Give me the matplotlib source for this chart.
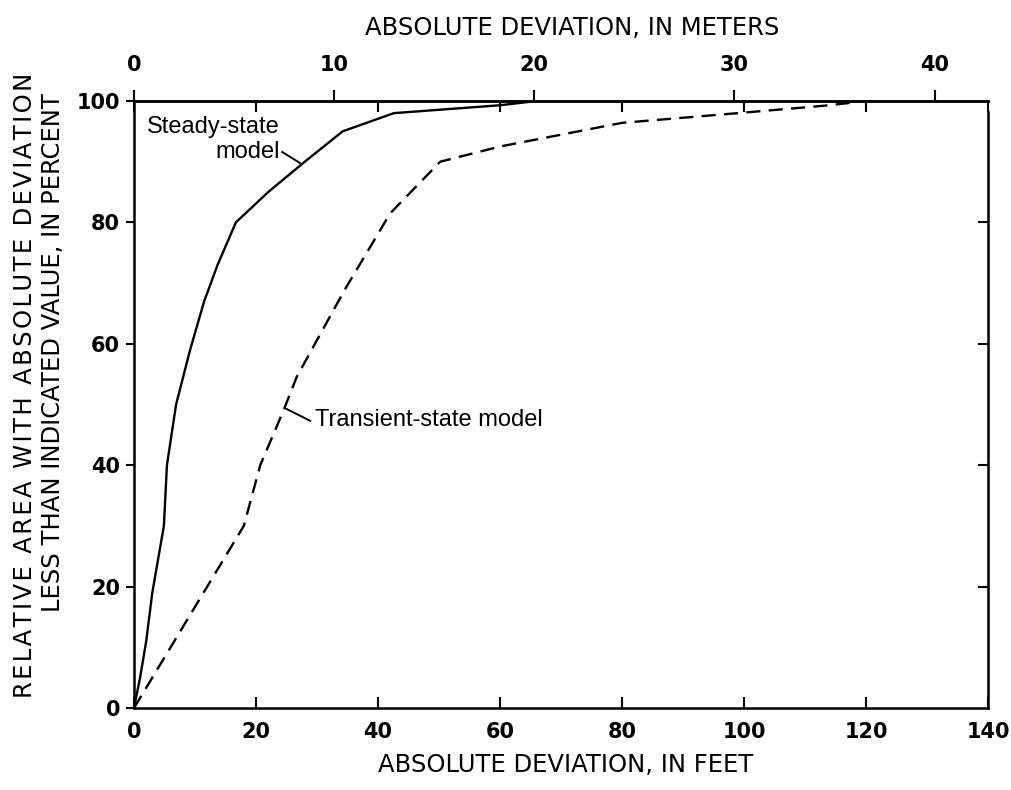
import numpy as np
import matplotlib
matplotlib.use("Agg")
import matplotlib.pyplot as plt

# cumulative area (percent) with absolute deviation below a value (feet)
steady_ft = [0, 1, 2, 3, 4.9, 5.4, 6.9, 9.2, 11.5, 13.7, 16.7, 22, 28, 34.2, 42.6, 60, 66]
steady_pct = [0, 5, 11, 19, 30, 40, 50, 59, 67, 73, 80, 85, 90, 95, 98, 99.3, 100]

transient_ft = [0, 18, 20.7, 24.5, 26.7, 34.6, 42, 50.2, 60, 80, 99, 114, 120]
transient_pct = [0, 30, 40, 49, 54.6, 69, 81.5, 90, 92.5, 96.4, 98, 99.3, 100]

feet_ticks = [0, 20, 40, 60, 80, 100, 120, 140]
meter_ticks = [0, 10, 20, 30, 40]
pct_ticks = [0, 20, 40, 60, 80, 100]

FT_PER_M = 3.2808


def spaced(s, gap='\u200a'):
    return gap.join(s)


plt.rcParams['font.family'] = ['Liberation Sans', 'DejaVu Sans']

fig = plt.figure(figsize=(10.12, 7.9), dpi=100)
ax = fig.add_axes([134 / 1012, 1 - 708 / 790, (988 - 134) / 1012, (708 - 101) / 790])

ax.plot(steady_ft, steady_pct, color='black', lw=1.7, solid_joinstyle='miter')
ax.plot(transient_ft, transient_pct, color='black', lw=1.7, dashes=(6, 3.5))

ax.set_xlim(0, 140)
ax.set_ylim(0, 100)
for s in ax.spines.values():
    s.set_linewidth(1.8)
ax.spines['right'].set_bounds(0, 98.2)

ax.set_xticks(feet_ticks)
ax.set_yticks(pct_ticks)
tick_font = dict(fontsize=15, fontweight='bold', family='DejaVu Sans')
ax.set_xticklabels([str(v) for v in feet_ticks], **tick_font)
ax.set_yticklabels([str(v) for v in pct_ticks], **tick_font)
ax.tick_params(axis='x', direction='in', length=8, width=1.5, top=True, pad=10)
ax.tick_params(axis='y', which='major', direction='out', length=6, width=1.5, pad=4)

# inward ticks on the right side for the interior percent values
rax = ax.twinx()
rax.set_ylim(0, 100)
rax.set_yticks(pct_ticks[1:-1])
rax.tick_params(axis='y', direction='in', length=7, width=1.5, labelright=False)
for s in rax.spines.values():
    s.set_visible(False)

# metric scale along the top
sec = ax.secondary_xaxis('top', functions=(lambda f: f / FT_PER_M, lambda m: m * FT_PER_M))
sec.set_xticks(meter_ticks)
sec.set_xticklabels([str(v) for v in meter_ticks], **tick_font)
sec.tick_params(direction='out', length=8, width=1.5, pad=11)
sec.spines['top'].set_linewidth(1.8)

title_font = dict(fontsize=17.5, family='DejaVu Sans', ha='center', va='center')
fig.text(572 / 1012, 1 - 28 / 790, 'ABSOLUTE DEVIATION, IN METERS', **title_font)
fig.text(566 / 1012, 1 - 765 / 790, 'ABSOLUTE DEVIATION, IN FEET', **title_font)
fig.text(25 / 1012, 1 - 385 / 790, spaced('RELATIVE AREA WITH ABSOLUTE DEVIATION'),
         rotation=90, ha='center', va='center', fontsize=17.5, family='DejaVu Sans')
fig.text(53 / 1012, 1 - 353 / 790, 'LESS THAN INDICATED VALUE, IN PERCENT', rotation=90,
         ha='center', va='center', fontsize=17.5, family='DejaVu Sans')

ann_font = dict(fontsize=17, va='center')
ax.text(2.1, 95.7, 'Steady-state', ha='left', **ann_font)
ax.text(23.9, 91.6, 'model', ha='right', **ann_font)
ax.plot([24.3, 27.2], [91.6, 89.8], color='black', lw=1.4)

ax.text(29.7, 47.4, 'Transient-state model', ha='left', **ann_font)
ax.plot([24.75, 28.9], [49.4, 47.3], color='black', lw=1.4)

fig.savefig('out.png', dpi=100)
